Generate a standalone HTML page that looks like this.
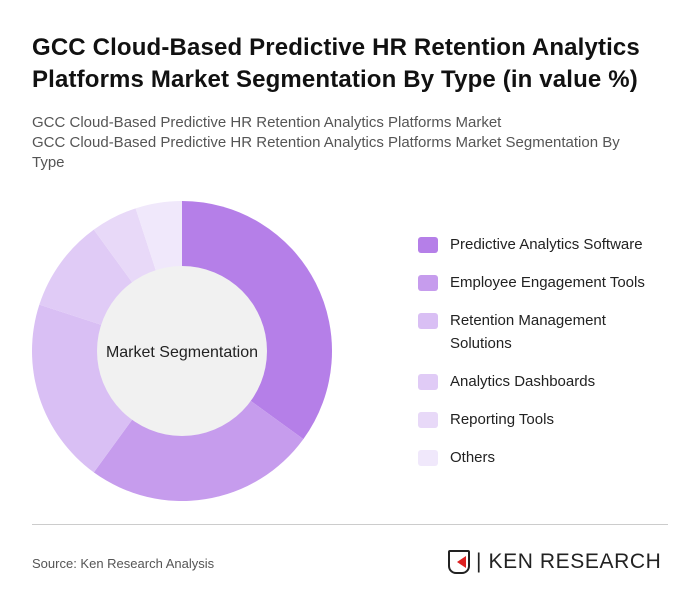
<!DOCTYPE html>
<html><head><meta charset="utf-8"><style>
body{margin:0;width:700px;height:610px;background:#fff;font-family:"Liberation Sans",sans-serif;overflow:hidden;position:relative}
.t{position:absolute;left:32px;top:32px;font-size:24px;font-weight:bold;color:#111;line-height:32px;letter-spacing:0.15px}
.s{position:absolute;left:32px;top:113px;font-size:15px;color:#555;line-height:20px;width:615px}
.lg{position:absolute;left:418px;font-size:15px;color:#222;line-height:23px}
.sw{position:absolute;left:0;top:4px;width:20px;height:16px;border-radius:3px}
.lg span.l{margin-left:32px;display:block}
</style></head><body>
<div class="t">GCC Cloud-Based Predictive HR Retention Analytics<br>Platforms Market Segmentation By Type (in value %)</div>
<div class="s">GCC Cloud-Based Predictive HR Retention Analytics Platforms Market<br>GCC Cloud-Based Predictive HR Retention Analytics Platforms Market Segmentation By Type</div>
<svg id="c" width="700" height="610" style="position:absolute;left:0;top:0"></svg>
<div id="legend"></div>
<div style="position:absolute;left:32px;top:524px;width:636px;height:1px;background:#ccc"></div>
<div style="position:absolute;left:32px;top:556px;font-size:13px;color:#555">Source: Ken Research Analysis</div>
<div style="position:absolute;left:448px;top:550px;width:22px;height:24px;border:2px solid #222;border-radius:2px 2px 8px 8px;box-sizing:border-box"><div style="position:absolute;left:7px;top:4px;width:0;height:0;border-top:6px solid transparent;border-bottom:6px solid transparent;border-right:9px solid #d22"></div></div>
<div style="position:absolute;left:476px;top:550px;font-size:21px;color:#222;letter-spacing:0.6px">| KEN RESEARCH</div>
<script>
const categories=["Predictive Analytics Software","Employee Engagement Tools","Retention Management Solutions","Analytics Dashboards","Reporting Tools","Others"];
const values=[35,25,20,10,5,5];
const colors=["#b57fe8","#c69ced","#d9bff4","#e0cbf6","#e8d9f8","#f0e8fb"];
const svg=document.getElementById('c');const NS="http://www.w3.org/2000/svg";
const cx=182,cy=351,R=150,r=85;
const tot=values.reduce((a,b)=>a+b,0);let a0=0;
function pt(a,rad){return [cx+rad*Math.sin(a),cy-rad*Math.cos(a)];}
values.forEach((v,i)=>{const a1=a0+v/tot*2*Math.PI;const [x0,y0]=pt(a0,R),[x1,y1]=pt(a1,R);const lg=(a1-a0)>Math.PI?1:0;
const p=document.createElementNS(NS,'path');p.setAttribute('d',`M${cx},${cy}L${x0},${y0}A${R},${R} 0 ${lg} 1 ${x1},${y1}Z`);p.setAttribute('fill',colors[i]);


svg.appendChild(p);a0=a1;});
const c=document.createElementNS(NS,'circle');c.setAttribute('cx',cx);c.setAttribute('cy',cy);c.setAttribute('r',r);c.setAttribute('fill','#f1f1f1');


svg.appendChild(c);
const t=document.createElementNS(NS,'text');t.setAttribute('x',cx);t.setAttribute('y',cy+6);t.setAttribute('text-anchor','middle');t.setAttribute('font-size','16');t.setAttribute('fill','#222');t.setAttribute('font-family','Liberation Sans, sans-serif');t.textContent='Market Segmentation';


svg.appendChild(t);
const tops=[233,271,309,370,408,446];const lgd=document.getElementById('legend');
categories.forEach((n,i)=>{const d=document.createElement('div');d.className='lg';d.style.top=tops[i]+'px';


const label=i===2?'Retention Management<br>Solutions':n;
d.innerHTML=`<div class="sw" style="background:${colors[i]}"></div><span class="l">${label}</span>`;lgd.appendChild(d);});
</script>
</body></html>
